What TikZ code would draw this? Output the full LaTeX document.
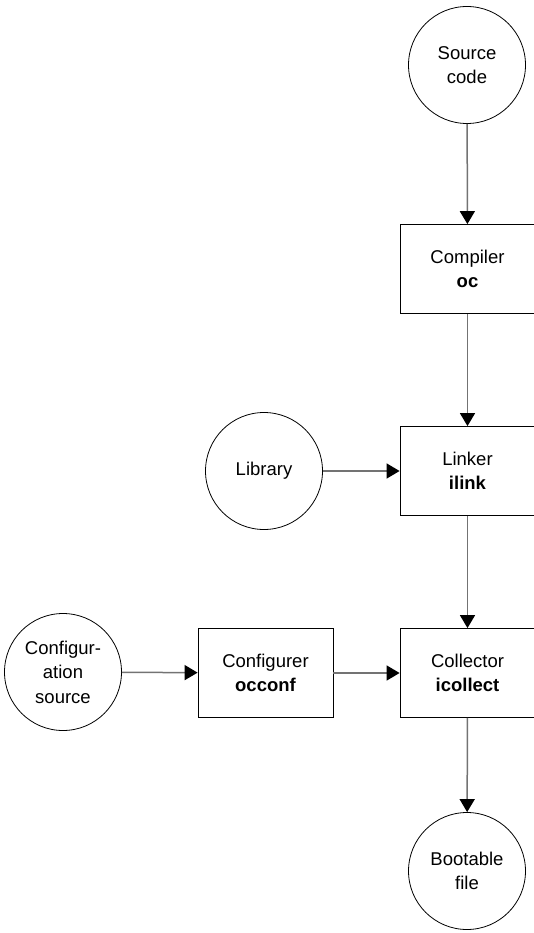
\documentclass[tikz,border=0pt]{standalone}
\usepackage{fontspec}
\setmainfont{Liberation Sans}
\usetikzlibrary{arrows.meta}
\definecolor{linegray}{RGB}{115,115,115}
\begin{document}
\begin{tikzpicture}[x=1pt,y=-1pt,
  every node/.style={font=\fontsize{18.5}{24.5}\selectfont, align=center},
  circ/.style={circle, draw=black, line width=0.8pt, minimum size=117pt, inner sep=0pt},
  boxn/.style={rectangle, draw=black, line width=0.8pt, minimum width=135pt, minimum height=89pt, inner sep=0pt},
  conn/.style={draw=linegray, line width=1.5pt, -{Triangle[length=13pt,width=15pt,black]}}]
\useasboundingbox (0,0) rectangle (534,933);
\node[circ] (src) at (467,65) {Source\\code};
\node[boxn] (comp) at (467.5,269) {Compiler\\\textbf{oc}};
\node[boxn] (link) at (467.5,471) {Linker\\\textbf{ilink}};
\node[circ] (lib) at (264,471) {Library};
\node[boxn] (coll) at (467.5,673) {Collector\\\textbf{icollect}};
\node[boxn] (conf) at (265.5,673) {Configurer\\\textbf{occonf}};
\node[circ] (cfgsrc) at (63,672) {Configur-\\ation\\source};
\node[circ] (boot) at (467,871) {Bootable\\file};
\draw[conn] (src) -- (comp);
\draw[conn] (comp) -- (link);
\draw[conn] (lib) -- (link);
\draw[conn] (link) -- (coll);
\draw[conn] (cfgsrc) -- (conf);
\draw[conn] (conf) -- (coll);
\draw[conn] (coll) -- (boot);
\end{tikzpicture}
\end{document}
